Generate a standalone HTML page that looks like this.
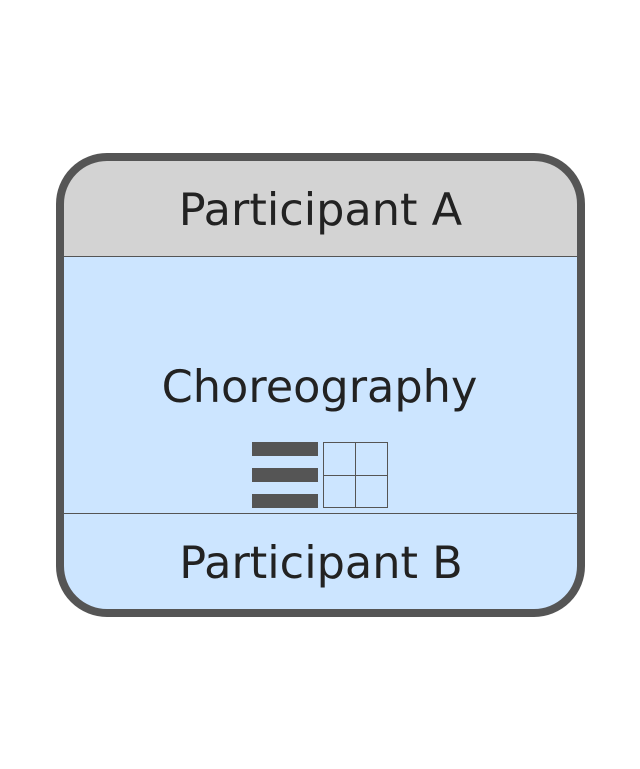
<!DOCTYPE html>
<html>
<head>
<meta charset="utf-8">
<style>
html,body{margin:0;padding:0;background:#fff;width:640px;height:769px;overflow:hidden}
svg{display:block}
text{font-family:"DejaVu Sans",sans-serif;font-size:44.6px;fill:#222;text-anchor:middle}
</style>
</head>
<body>
<svg width="640" height="769" viewBox="0 0 640 769" xmlns="http://www.w3.org/2000/svg">
<defs>
<clipPath id="c"><rect x="60" y="157" width="521" height="456" rx="47" ry="47"/></clipPath>
</defs>
<g clip-path="url(#c)">
<rect x="60" y="157" width="521" height="100" fill="#d3d3d3"/>
<rect x="60" y="257" width="521" height="356" fill="#cce5ff"/>
</g>
<line x1="60" y1="256.5" x2="581" y2="256.5" stroke="#555" stroke-width="1"/>
<line x1="60" y1="513.5" x2="581" y2="513.5" stroke="#555" stroke-width="1"/>
<rect x="60" y="157" width="521" height="456" rx="47" ry="47" fill="none" stroke="#555" stroke-width="8"/>
<rect x="252" y="442" width="66" height="14" fill="#555"/>
<rect x="252" y="468" width="66" height="14" fill="#555"/>
<rect x="252" y="494" width="66" height="14" fill="#555"/>
<g fill="none" stroke="#555" stroke-width="1">
<rect x="323.5" y="442.5" width="64" height="65"/>
<line x1="355.5" y1="442.5" x2="355.5" y2="507.5"/>
<line x1="323.5" y1="475.5" x2="387.5" y2="475.5"/>
</g>
<text x="320.5" y="225">Participant A</text>
<text x="319.5" y="402">Choreography</text>
<text x="321" y="578">Participant B</text>
</svg>
</body>
</html>
